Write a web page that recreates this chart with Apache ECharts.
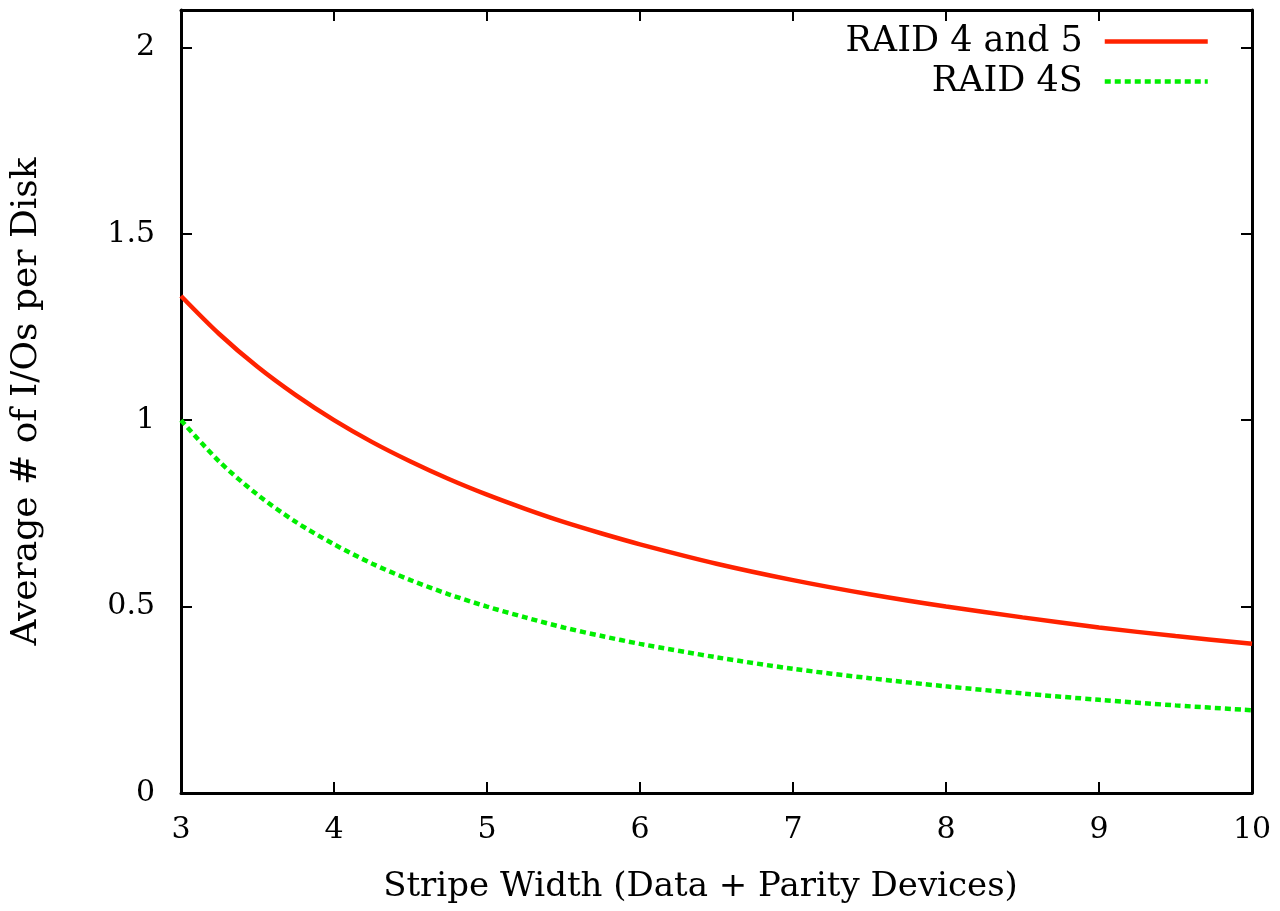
<!DOCTYPE html>
<html><head><meta charset="utf-8">
<script src="https://cdn.jsdelivr.net/npm/echarts@6/dist/echarts.min.js"></script>
<style>html,body{margin:0;padding:0;background:#fff}#c{width:1280px;height:911px}</style>
</head><body><div id="c"></div>
<script>
var stripeWidth = [3, 3.25, 3.5, 3.75, 4, 4.25, 4.5, 4.75, 5, 5.25, 5.5, 5.75, 6, 6.5, 7, 7.5, 8, 8.5, 9, 9.5, 10];
var raid45 = [1.333, 1.231, 1.143, 1.067, 1.0, 0.941, 0.889, 0.842, 0.8, 0.762, 0.727, 0.696, 0.667, 0.615, 0.571, 0.533, 0.5, 0.471, 0.444, 0.421, 0.4];
var raid4S = [1.0, 0.889, 0.8, 0.727, 0.667, 0.615, 0.571, 0.533, 0.5, 0.471, 0.444, 0.421, 0.4, 0.364, 0.333, 0.308, 0.286, 0.267, 0.25, 0.235, 0.222];
var seriesNames = ['RAID 4 and 5', 'RAID 4S'];
var xTitle = 'Stripe Width (Data + Parity Devices)';
var yTitle = 'Average # of I/Os per Disk';

var FONT = "'DejaVu Serif', serif";
var chart = echarts.init(document.getElementById('c'), null, {renderer: 'canvas'});
function pairs(xs, ys) { return xs.map(function (x, i) { return [x, ys[i]]; }); }
var axisLine = {show: true, onZero: false, lineStyle: {color: '#000', width: 3}};
var tick = {show: true, inside: true, length: 11, lineStyle: {color: '#000', width: 2}};
var legendCommon = {
  right: 65, align: 'right', itemWidth: 103, itemHeight: 20, itemGap: 22,
  itemStyle: {opacity: 0}, lineStyle: {width: 4.5},
  textStyle: {color: '#000', fontFamily: FONT, fontSize: 35, padding: [0, 17, 0, 0]}
};
chart.setOption({
  animation: false,
  backgroundColor: '#fff',
  grid: {left: 181, right: 28, top: 10, bottom: 118, containLabel: false},
  xAxis: [{
    type: 'value', min: 3, max: 10, interval: 1,
    axisLine: axisLine, axisTick: tick, splitLine: {show: false},
    axisLabel: {color: '#000', fontFamily: FONT, fontSize: 30, margin: 22},
    name: xTitle, nameLocation: 'middle', nameGap: 77,
    nameTextStyle: {color: '#000', fontFamily: FONT, fontSize: 34, padding: [0, 32, 0, 0]}
  }, {
    type: 'value', position: 'top', min: 3, max: 10, interval: 1,
    axisLine: axisLine, axisTick: tick, axisLabel: {show: false}, splitLine: {show: false}
  }],
  yAxis: [{
    type: 'value', min: 0, max: 2.1, interval: 0.5,
    axisLine: axisLine, axisTick: tick, splitLine: {show: false},
    axisLabel: {color: '#000', fontFamily: FONT, fontSize: 30, margin: 26,
      formatter: function (v) { return v > 2.05 ? '' : String(v); }},
    name: yTitle, nameLocation: 'middle', nameGap: 136,
    nameTextStyle: {color: '#000', fontFamily: FONT, fontSize: 36}
  }, {
    type: 'value', position: 'right', min: 0, max: 2.1, interval: 0.5,
    axisLine: axisLine, axisTick: tick, axisLabel: {show: false}, splitLine: {show: false}
  }],
  legend: [
    Object.assign({data: [seriesNames[0]], top: 19}, legendCommon),
    Object.assign({data: [seriesNames[1]], top: 59}, legendCommon)
  ],
  series: [{
    name: seriesNames[0], type: 'line', data: pairs(stripeWidth, raid45),
    smooth: 0.3, symbol: 'none', lineStyle: {color: '#ff2200', width: 4.5}, itemStyle: {color: '#ff2200'}
  }, {
    name: seriesNames[1], type: 'line', data: pairs(stripeWidth, raid4S),
    smooth: 0.3, symbol: 'none', lineStyle: {color: '#00ee00', width: 4.5, type: [6, 4]}, itemStyle: {color: '#00ee00'}
  }]
});
</script></body></html>
